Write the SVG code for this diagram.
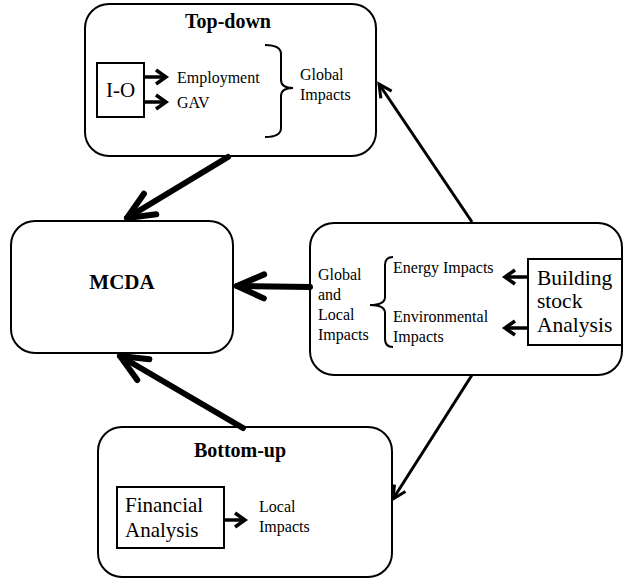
<svg xmlns="http://www.w3.org/2000/svg" width="625" height="580" viewBox="0 0 625 580">
  <defs>
    <style>
      .box { fill: #fff; stroke: #000; stroke-width: 2; }
      .sq { fill: #fff; stroke: #000; stroke-width: 2; }
      .brace { fill: none; stroke: #000; stroke-width: 2; }
      .t { font-family: 'Liberation Serif', 'Times New Roman', 'DejaVu Serif', serif; fill: #000; }
      .title { font-size: 20px; font-weight: bold; text-anchor: middle; }
      .lbl { font-size: 16px; }
      .big { font-size: 21px; }
      .thick { stroke: #000; stroke-width: 6; fill: none; stroke-linecap: round; }
      .thin { stroke: #000; stroke-width: 3; fill: none; }
      .small { stroke: #000; stroke-width: 3.5; fill: none; }
    </style>
    <marker id="headThick" markerUnits="userSpaceOnUse" viewBox="-32 -16 36 32" refX="0" refY="0" markerWidth="36" markerHeight="32" orient="auto" overflow="visible">
      <path d="M-27,-12 L0,0 L-27,12" fill="none" stroke="#000" stroke-width="6" stroke-linecap="round" stroke-linejoin="round"/>
    </marker>
    <marker id="headThin" markerUnits="userSpaceOnUse" viewBox="-16 -10 20 20" refX="0" refY="0" markerWidth="20" markerHeight="20" orient="auto" overflow="visible">
      <path d="M-13,-6.5 L0,0 L-13,6.5" fill="none" stroke="#000" stroke-width="3" stroke-linejoin="miter"/>
    </marker>
    <marker id="headSmall" markerUnits="userSpaceOnUse" viewBox="-14 -10 18 20" refX="0" refY="0" markerWidth="18" markerHeight="20" orient="auto" overflow="visible">
      <path d="M-10,-7 L0,0 L-10,7" fill="none" stroke="#000" stroke-width="3.5" stroke-linejoin="miter"/>
    </marker>
  </defs>

  <rect width="625" height="580" fill="#fff"/>

  <!-- Top-down block -->
  <g id="top-down" class="t" font-family="Liberation Serif, serif">
    <rect class="box" x="85" y="4" width="291" height="152" rx="24"/>
    <text class="title" x="228" y="28">Top-down</text>
    <rect class="sq" x="97" y="63" width="47" height="54"/>
    <text class="big" x="120.5" y="97" text-anchor="middle">I-O</text>
    <line class="small" x1="144" y1="77" x2="166" y2="77" marker-end="url(#headSmall)"/>
    <line class="small" x1="144" y1="102" x2="166" y2="102" marker-end="url(#headSmall)"/>
    <text class="lbl" x="177" y="83">Employment</text>
    <text class="lbl" x="177" y="108">GAV</text>
    <path class="brace" d="M265,45 Q281,45 281,54 L281,80 Q281,88 293,88 Q281,88 281,96 L281,128 Q281,137 265,137"/>
    <text class="lbl" x="300" y="80">Global</text>
    <text class="lbl" x="300" y="100">Impacts</text>
  </g>

  <!-- MCDA block -->
  <g id="mcda" class="t" font-family="Liberation Serif, serif">
    <rect class="box" x="11" y="221" width="222" height="132" rx="24"/>
    <text class="title" x="122" y="289" style="font-size:21px">MCDA</text>
  </g>

  <!-- Building stock block -->
  <g id="building-stock" class="t" font-family="Liberation Serif, serif">
    <rect class="box" x="310" y="223" width="312" height="152" rx="24"/>
    <text class="lbl" x="318" y="280">Global</text>
    <text class="lbl" x="318" y="300">and</text>
    <text class="lbl" x="318" y="320">Local</text>
    <text class="lbl" x="318" y="340">Impacts</text>
    <path class="brace" d="M393,257 Q385,257 385,265 L385,297 Q385,305 370,305 Q385,305 385,313 L385,339 Q385,347 393,347"/>
    <text class="lbl" x="393" y="273">Energy Impacts</text>
    <text class="lbl" x="393" y="322">Environmental</text>
    <text class="lbl" x="393" y="342">Impacts</text>
    <rect class="sq" x="528" y="259" width="94" height="86"/>
    <text class="big" x="537" y="285" style="font-size:21.5px">Building</text>
    <text class="big" x="537" y="308" style="font-size:21.5px">stock</text>
    <text class="big" x="537" y="332" style="font-size:21.5px">Analysis</text>
    <line class="small" x1="528" y1="277" x2="505" y2="277" marker-end="url(#headSmall)"/>
    <line class="small" x1="528" y1="328" x2="505" y2="328" marker-end="url(#headSmall)"/>
  </g>

  <!-- Bottom-up block -->
  <g id="bottom-up" class="t" font-family="Liberation Serif, serif">
    <rect class="box" x="98" y="427" width="294" height="150" rx="24"/>
    <text class="title" x="240" y="457">Bottom-up</text>
    <rect class="sq" x="117" y="487" width="107" height="61"/>
    <text class="big" x="125" y="512">Financial</text>
    <text class="big" x="125" y="537">Analysis</text>
    <line class="small" x1="224" y1="520" x2="245" y2="520" marker-end="url(#headSmall)"/>
    <text class="lbl" x="259" y="512">Local</text>
    <text class="lbl" x="259" y="532">Impacts</text>
  </g>

  <!-- Connectors between blocks -->
  <g id="connectors">
    <line class="thick" x1="228" y1="157" x2="127" y2="218" marker-end="url(#headThick)"/>
    <line class="thick" x1="310" y1="287" x2="237" y2="286" marker-end="url(#headThick)"/>
    <line class="thick" x1="243" y1="428" x2="120" y2="356" marker-end="url(#headThick)"/>
    <line class="thin" x1="472" y1="222" x2="379" y2="84" marker-end="url(#headThin)"/>
    <line class="thin" x1="472" y1="375" x2="393" y2="499" marker-end="url(#headThin)"/>
  </g>
</svg>
